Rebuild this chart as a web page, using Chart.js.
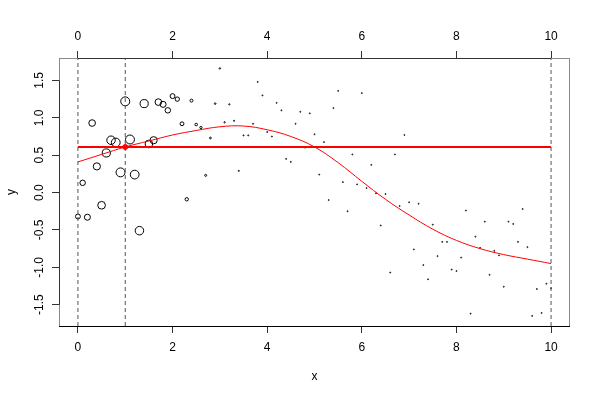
<!DOCTYPE html>
<html>
<head>
<meta charset="utf-8">
<script src="https://cdn.jsdelivr.net/npm/chart.js@4/dist/chart.umd.min.js"></script>
<style>
  html, body { margin: 0; padding: 0; background: #ffffff; }
  #wrap { width: 600px; height: 400px; }
</style>
</head>
<body>
<div id="wrap"><canvas id="c" width="600" height="400"></canvas></div>
<script>
// ---- data ----
const xValues = [
  0.0, 0.1, 0.2, 0.3, 0.4, 0.5, 0.6, 0.7, 0.8, 0.9,
  1.0, 1.1, 1.2, 1.3, 1.4, 1.5, 1.6, 1.7, 1.8, 1.9,
  2.0, 2.1, 2.2, 2.3, 2.4, 2.5, 2.6, 2.7, 2.8, 2.9,
  3.0, 3.1, 3.2, 3.3, 3.4, 3.5, 3.6, 3.7, 3.8, 3.9,
  4.0, 4.1, 4.2, 4.3, 4.4, 4.5, 4.6, 4.7, 4.8, 4.9,
  5.0, 5.1, 5.2, 5.3, 5.4, 5.5, 5.6, 5.7, 5.8, 5.9,
  6.0, 6.1, 6.2, 6.3, 6.4, 6.5, 6.6, 6.7, 6.8, 6.9,
  7.0, 7.1, 7.2, 7.3, 7.4, 7.5, 7.6, 7.7, 7.8, 7.9,
  8.0, 8.1, 8.2, 8.3, 8.4, 8.5, 8.6, 8.7, 8.8, 8.9,
  9.0, 9.1, 9.2, 9.3, 9.4, 9.5, 9.6, 9.7, 9.8, 9.9,
  10.0
];
const yValues = [
  -0.32, 0.13, -0.33, 0.93, 0.35, -0.17, 0.53, 0.70, 0.67, 0.27,
  1.22, 0.71, 0.24, -0.51, 1.19, 0.65, 0.70, 1.21, 1.18, 1.10,
  1.29, 1.25, 0.92, -0.09, 1.23, 0.91, 0.87, 0.23, 0.73, 1.19,
  1.66, 0.94, 1.18, 0.96, 0.29, 0.765, 0.765, 0.92, 1.48, 1.30,
  0.81, 0.75, 1.20, 1.10, 0.45, 0.41, 0.92, 1.08, 0.60, 1.06,
  0.78, 0.24, 0.675, -0.10, 1.13, 1.36, 0.14, -0.25, 0.51, 0.11,
  1.33, 0.06, 0.37, -0.01, -0.44, -0.02, -1.07, 0.51, -0.18, 0.77,
  -0.13, -0.76, -0.15, -0.97, -1.16, -0.43, -0.85, -0.66, -0.66, -1.03,
  -1.05, -0.87, -0.24, -1.62, -0.59, -0.74, -0.39, -1.10, -0.78, -0.84,
  -1.26, -0.39, -0.42, -0.66, -0.22, -0.73, -1.65, -1.29, -1.61, -1.22,
  -1.28
];
const fitX = [0, 0.5, 1, 1.5, 2, 2.5, 3, 3.5, 4, 4.5, 5, 5.5, 6, 6.5, 7, 7.5, 8, 8.5, 9, 9.5, 10];
const fitY = [0.41, 0.51, 0.61, 0.69, 0.77, 0.83, 0.88, 0.89, 0.84, 0.75, 0.61, 0.40, 0.15, -0.09, -0.30, -0.49, -0.64, -0.75, -0.83, -0.89, -0.95];
const localX = 1;
const localY = 0.61;
const levelX = [0, 10];
const refLinesX = [0, 1, 10];
const xTicks = [0, 2, 4, 6, 8, 10];
const yTicks = [-1.5, -1.0, -0.5, 0.0, 0.5, 1.0, 1.5];
const xRange = [-0.4, 10.4];
const yRange = [-1.785, 1.80];
const xTitle = 'x';
const yTitle = 'y';

// ---- build datasets ----
const points = xValues.map((x, i) => ({ x: x, y: yValues[i] }));
const fitPts = fitX.map((x, i) => ({ x: x, y: fitY[i] }));
const levelPts = levelX.map(x => ({ x: x, y: localY }));

const FONT = { family: "'Liberation Sans', Arial, Helvetica, sans-serif", size: 12 };

function kernelRadius(ctx) {
  const p = ctx.raw;
  if (!p) return 1;
  const d = p.x - localX;
  return 0.5 + 4 * Math.exp(-(d * d) / 1.4);
}

const datasets = [];
refLinesX.forEach(v => {
  datasets.push({
    type: 'line',
    data: [{ x: v, y: yRange[0] }, { x: v, y: yRange[1] }],
    borderColor: '#555555',
    borderWidth: 1,
    borderDash: [4, 3],
    pointRadius: 0,
    fill: false,
    order: 1
  });
});
datasets.push({
  type: 'line',
  data: levelPts,
  borderColor: '#ff0000',
  borderWidth: 2,
  pointRadius: 0,
  fill: false,
  order: 2
});
datasets.push({
  type: 'scatter',
  data: [{ x: localX, y: localY }],
  backgroundColor: '#ff0000',
  borderColor: '#ff0000',
  borderWidth: 1,
  pointRadius: 2.5,
  order: 0
});
datasets.push({
  type: 'line',
  data: fitPts,
  borderColor: '#ff0000',
  borderWidth: 1,
  tension: 0.4,
  pointRadius: 0,
  fill: false,
  order: 3
});
datasets.push({
  type: 'scatter',
  data: points,
  backgroundColor: 'rgba(0,0,0,0)',
  borderColor: '#000000',
  borderWidth: 1,
  pointRadius: kernelRadius,
  order: 4
});

function fixTicks(list) {
  return function (scale) { scale.ticks = list.map(v => ({ value: v })); };
}

const boxPlugin = {
  id: 'boxPlugin',
  afterDraw(chart) {
    const { ctx, chartArea: a } = chart;
    const xs = chart.scales.x, ys = chart.scales.y;
    const L = Math.round(a.left) + 0.5, R = Math.round(a.right) - 0.5;
    const T = Math.round(a.top) + 0.5, B = Math.round(a.bottom) + 0.5;
    ctx.save();
    ctx.lineWidth = 1;
    ctx.strokeStyle = '#8a8a8a';
    ctx.strokeRect(L, T, R - L, B - T);
    const x0 = xs.getPixelForValue(xTicks[0]), x1 = xs.getPixelForValue(xTicks[xTicks.length - 1]);
    const y0 = ys.getPixelForValue(yTicks[0]), y1 = ys.getPixelForValue(yTicks[yTicks.length - 1]);
    ctx.strokeStyle = '#000000';
    ctx.beginPath(); ctx.moveTo(L - 0.5, B); ctx.lineTo(R + 0.5, B); ctx.stroke();
    ctx.strokeStyle = '#333333';
    ctx.beginPath(); ctx.moveTo(x0, T); ctx.lineTo(x1, T); ctx.stroke();
    ctx.beginPath(); ctx.moveTo(L, y0); ctx.lineTo(L, y1); ctx.stroke();
    ctx.restore();
  }
};

new Chart(document.getElementById('c'), {
  data: { datasets: datasets },
  options: {
    responsive: false,
    animation: false,
    devicePixelRatio: 1,
    layout: { padding: { left: 0, right: 30, top: 0, bottom: 0 } },
    plugins: { legend: { display: false }, tooltip: { enabled: false } },
    scales: {
      x: {
        type: 'linear', position: 'bottom',
        min: xRange[0], max: xRange[1],
        afterBuildTicks: fixTicks(xTicks),
        afterFit: s => { s.height = 74; },
        border: { display: false },
        grid: { drawOnChartArea: false, drawTicks: true, tickLength: 7, tickColor: '#333333', color: '#333333' },
        ticks: { color: '#000000', font: FONT, padding: 7, maxRotation: 0, autoSkip: false },
        title: { display: true, text: xTitle, color: '#000000', font: FONT, padding: { top: 0, bottom: 16 } }
      },
      x2: {
        type: 'linear', position: 'top',
        min: xRange[0], max: xRange[1],
        afterBuildTicks: fixTicks(xTicks),
        afterFit: s => { s.height = 58; },
        border: { display: false },
        grid: { drawOnChartArea: false, drawTicks: true, tickLength: 7, tickColor: '#333333', color: '#333333' },
        ticks: { color: '#000000', font: FONT, padding: 7, maxRotation: 0, autoSkip: false }
      },
      y: {
        type: 'linear', position: 'left',
        min: yRange[0], max: yRange[1],
        afterBuildTicks: fixTicks(yTicks),
        afterFit: s => { s.width = 59; },
        border: { display: false },
        grid: { drawOnChartArea: false, drawTicks: true, tickLength: 7, tickColor: '#333333', color: '#333333' },
        ticks: {
          color: '#000000', font: FONT, padding: 2, minRotation: 90, maxRotation: 90,
          crossAlign: 'center', autoSkip: false,
          callback: v => Number(v).toFixed(1)
        },
        title: { display: true, text: yTitle, color: '#000000', font: FONT, padding: { top: 4.5, bottom: 0 } }
      }
    }
  },
  plugins: [boxPlugin]
});
</script>
</body>
</html>
